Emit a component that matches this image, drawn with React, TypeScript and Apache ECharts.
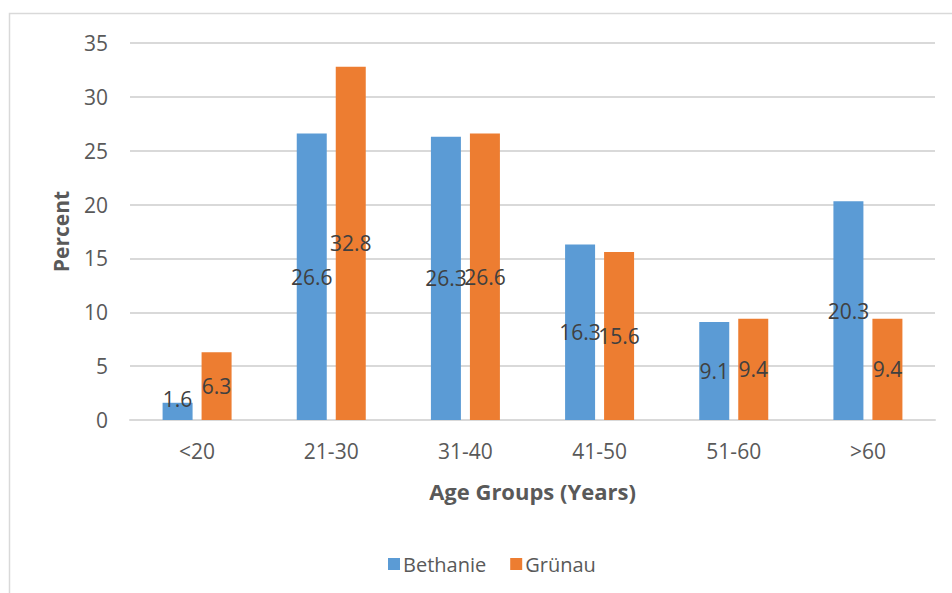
import React, { useEffect, useRef } from "react";
import * as echarts from "echarts";

// Share of respondents per age group, in percent
const ageGroups = ["<20", "21-30", "31-40", "41-50", "51-60", ">60"];
const bethanie = [1.6, 26.6, 26.3, 16.3, 9.1, 20.3];
const grunau = [6.3, 32.8, 26.6, 15.6, 9.4, 9.4];
const seriesNames = ["Bethanie", "Grünau"];

const FONT = "'Open Sans', 'Noto Sans', sans-serif";
const AXIS_TEXT = "#595959";
const LABEL_TEXT = "#404040";
const GRID_LINE = "#d9d9d9";

export default function App() {
  const ref = useRef<HTMLDivElement>(null);

  useEffect(() => {
    if (!ref.current) return;
    const chart = echarts.init(ref.current, undefined, { renderer: "svg" });

    const barLabel = {
      show: true,
      position: "inside" as const,
      color: LABEL_TEXT,
      fontFamily: FONT,
      fontSize: 21,
      formatter: (p: any) => p.value.toFixed(1),
    };

    // A short bar cannot hold its label, so it is lifted above the bar's middle
    const toData = (vals: number[]) =>
      vals.map((v) =>
        v < 3 ? { value: v, label: { offset: [0, -12] } } : { value: v }
      );

    chart.setOption({
      animation: false,
      textStyle: { fontFamily: FONT },
      graphic: [
        {
          type: "rect",
          shape: { x: 9.5, y: 13.5, width: 960, height: 620 },
          style: { fill: "none", stroke: GRID_LINE, lineWidth: 1.5 },
          silent: true,
        },
      ],
      grid: { left: 130, right: 17, top: 43, bottom: 173 },
      legend: {
        left: 383,
        top: 549,
        itemWidth: 12,
        itemHeight: 12,
        itemGap: 24,
        icon: "rect",
        data: seriesNames,
        textStyle: { color: AXIS_TEXT, fontSize: 20, fontFamily: FONT, padding: [0, 0, 0, -2] },
      },
      xAxis: {
        type: "category",
        data: ageGroups,
        name: "Age Groups (Years)",
        nameLocation: "middle",
        nameGap: 60,
        nameTextStyle: { color: AXIS_TEXT, fontSize: 22, fontWeight: "bold", fontFamily: FONT },
        axisLine: { lineStyle: { color: GRID_LINE, width: 2 } },
        axisTick: { show: false },
        axisLabel: { color: AXIS_TEXT, fontSize: 21, margin: 20, fontFamily: FONT },
      },
      yAxis: {
        type: "value",
        min: 0,
        max: 35,
        interval: 5,
        name: "Percent",
        nameLocation: "middle",
        nameGap: 59,
        nameTextStyle: { color: AXIS_TEXT, fontSize: 21, fontWeight: "bold", fontFamily: FONT },
        axisLine: { show: false },
        axisTick: { show: false },
        axisLabel: { color: AXIS_TEXT, fontSize: 21, margin: 22, fontFamily: FONT },
        splitLine: { lineStyle: { color: GRID_LINE, width: 2 } },
      },
      series: [
        {
          name: seriesNames[0],
          type: "bar",
          data: toData(bethanie),
          barWidth: 30,
          barGap: "30%",
          itemStyle: { color: "#5b9bd5" },
          label: barLabel,
        },
        {
          name: seriesNames[1],
          type: "bar",
          data: toData(grunau),
          barWidth: 30,
          itemStyle: { color: "#ed7d31" },
          label: barLabel,
        },
      ],
    });

    return () => chart.dispose();
  }, []);

  return (
    <div
      ref={ref}
      style={{ position: "fixed", left: 0, top: 0, width: 952, height: 593, background: "#fff" }}
    />
  );
}
